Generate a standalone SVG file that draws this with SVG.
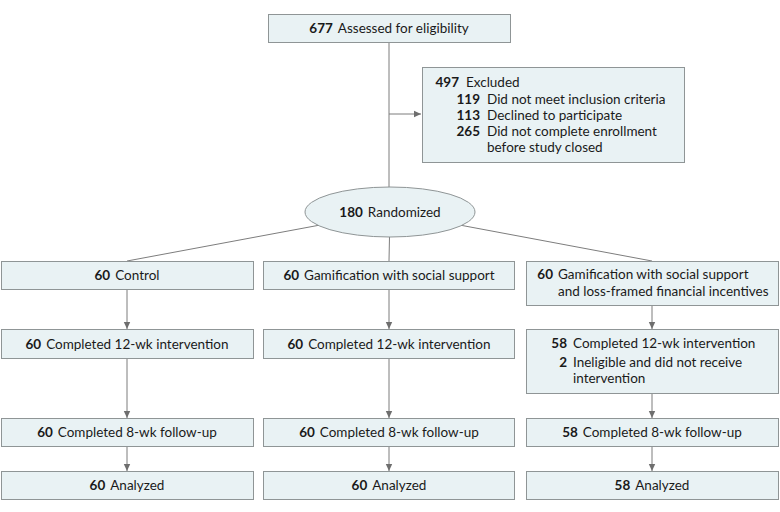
<svg xmlns="http://www.w3.org/2000/svg" width="780" height="512" viewBox="0 0 780 512">
<defs>
<style>
.box{fill:#e9f2f4;stroke:#8f9596;stroke-width:1}
.ln{stroke:#7d7d7d;stroke-width:1;fill:none}
text{font-family:Lato,"Liberation Sans",sans-serif;font-size:13.5px;fill:#1a1a1a}
.b{font-weight:bold}
.c{text-anchor:middle}
.r{text-anchor:end}
</style>
<marker id="ah" markerWidth="8" markerHeight="8" refX="7" refY="4" orient="auto" markerUnits="userSpaceOnUse">
<path d="M0,0.8 L7,4 L0,7.2 Z" fill="#6e6e6e"/>
</marker>
</defs>
<rect width="780" height="512" fill="#ffffff"/>
<g id="connectors">
<line class="ln" x1="389" y1="43" x2="389" y2="188"/>
<line class="ln" x1="389" y1="114" x2="421" y2="114" marker-end="url(#ah)"/>
<line class="ln" x1="390" y1="212" x2="127" y2="261"/>
<line class="ln" x1="390" y1="212" x2="389" y2="261"/>
<line class="ln" x1="390" y1="212" x2="652" y2="261"/>
<line class="ln" x1="127" y1="289" x2="127" y2="329" marker-end="url(#ah)"/>
<line class="ln" x1="389" y1="289" x2="389" y2="329" marker-end="url(#ah)"/>
<line class="ln" x1="652" y1="305" x2="652" y2="329" marker-end="url(#ah)"/>
<line class="ln" x1="127" y1="358" x2="127" y2="418" marker-end="url(#ah)"/>
<line class="ln" x1="389" y1="358" x2="389" y2="418" marker-end="url(#ah)"/>
<line class="ln" x1="652" y1="393" x2="652" y2="418" marker-end="url(#ah)"/>
<line class="ln" x1="127" y1="446" x2="127" y2="471" marker-end="url(#ah)"/>
<line class="ln" x1="389" y1="446" x2="389" y2="471" marker-end="url(#ah)"/>
<line class="ln" x1="652" y1="446" x2="652" y2="471" marker-end="url(#ah)"/>
</g>
<g id="assessed">
<rect class="box" x="268.5" y="14.5" width="242" height="28"/>
<text x="389" y="33" class="c"><tspan class="b">677</tspan><tspan dx="5">Assessed for eligibility</tspan></text>
</g>
<g id="excluded">
<rect class="box" x="422.5" y="67.5" width="262" height="95"/>
<text x="459" y="87" class="r b">497</text><text x="466" y="87">Excluded</text>
<text x="480" y="104" class="r b">119</text><text x="487" y="104">Did not meet inclusion criteria</text>
<text x="480" y="120" class="r b">113</text><text x="487" y="120">Declined to participate</text>
<text x="480" y="136" class="r b">265</text><text x="487" y="136">Did not complete enrollment</text>
<text x="487" y="152">before study closed</text>
</g>
<g id="randomized">
<ellipse class="box" cx="390" cy="212" rx="85" ry="25"/>
<text x="390" y="217" class="c"><tspan class="b">180</tspan><tspan dx="5">Randomized</tspan></text>
</g>
<g id="control">
<rect class="box" x="1.5" y="261.5" width="252" height="28"/>
<text x="127" y="280" class="c"><tspan class="b">60</tspan><tspan dx="5">Control</tspan></text>
</g>
<g id="gamification">
<rect class="box" x="263.5" y="261.5" width="251" height="28"/>
<text x="389" y="280" class="c"><tspan class="b">60</tspan><tspan dx="5">Gamification with social support</tspan></text>
</g>
<g id="gamification-incentives">
<rect class="box" x="526.5" y="261.5" width="252" height="44"/>
<text x="553" y="279" class="r b">60</text><text x="558" y="279">Gamification with social support</text>
<text x="558" y="296">and loss-framed financial incentives</text>
</g>
<g id="control-12wk">
<rect class="box" x="1.5" y="329.5" width="252" height="29"/>
<text x="127" y="349" class="c"><tspan class="b">60</tspan><tspan dx="5">Completed 12-wk intervention</tspan></text>
</g>
<g id="gam-12wk">
<rect class="box" x="263.5" y="329.5" width="251" height="29"/>
<text x="389" y="349" class="c"><tspan class="b">60</tspan><tspan dx="5">Completed 12-wk intervention</tspan></text>
</g>
<g id="inc-12wk">
<rect class="box" x="526.5" y="329.5" width="252" height="64"/>
<text x="567" y="348" class="r b">58</text><text x="573" y="348">Completed 12-wk intervention</text>
<text x="567" y="367" class="r b">2</text><text x="573" y="367">Ineligible and did not receive</text>
<text x="573" y="383">intervention</text>
</g>
<g id="control-8wk">
<rect class="box" x="1.5" y="418.5" width="252" height="28"/>
<text x="127" y="437" class="c"><tspan class="b">60</tspan><tspan dx="5">Completed 8-wk follow-up</tspan></text>
</g>
<g id="gam-8wk">
<rect class="box" x="263.5" y="418.5" width="251" height="28"/>
<text x="389" y="437" class="c"><tspan class="b">60</tspan><tspan dx="5">Completed 8-wk follow-up</tspan></text>
</g>
<g id="inc-8wk">
<rect class="box" x="526.5" y="418.5" width="252" height="28"/>
<text x="652" y="437" class="c"><tspan class="b">58</tspan><tspan dx="5">Completed 8-wk follow-up</tspan></text>
</g>
<g id="control-analyzed">
<rect class="box" x="1.5" y="471.5" width="252" height="28"/>
<text x="127" y="490" class="c"><tspan class="b">60</tspan><tspan dx="5">Analyzed</tspan></text>
</g>
<g id="gam-analyzed">
<rect class="box" x="263.5" y="471.5" width="251" height="28"/>
<text x="389" y="490" class="c"><tspan class="b">60</tspan><tspan dx="5">Analyzed</tspan></text>
</g>
<g id="inc-analyzed">
<rect class="box" x="526.5" y="471.5" width="252" height="28"/>
<text x="652" y="490" class="c"><tspan class="b">58</tspan><tspan dx="5">Analyzed</tspan></text>
</g>
</svg>
